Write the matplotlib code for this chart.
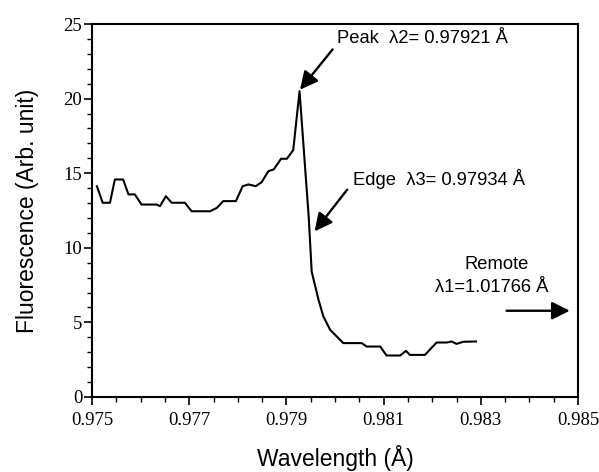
import numpy as np
import matplotlib
matplotlib.use("Agg")
import matplotlib.pyplot as plt
from matplotlib.ticker import MultipleLocator

# fluorescence scan
wavelength = [0.97510, 0.97522, 0.97537, 0.97547, 0.97564, 0.97575, 0.97588,
              0.97602, 0.97633, 0.97640, 0.97652, 0.97664, 0.97691, 0.97705,
              0.97743, 0.97757, 0.97770, 0.97796, 0.97810, 0.97822, 0.97837,
              0.97849, 0.97863, 0.97874, 0.97889, 0.97901, 0.97914, 0.97927,
              0.97946, 0.97952, 0.97966, 0.97976, 0.97990, 0.98017, 0.98055,
              0.98065, 0.98093, 0.98106, 0.98134, 0.98146, 0.98154, 0.98185,
              0.98209, 0.98230, 0.98240, 0.98250, 0.98264, 0.98290]
fluor = [14.13, 13.02, 13.02, 14.58, 14.58, 13.58, 13.58,
         12.90, 12.90, 12.79, 13.46, 13.02, 13.02, 12.45,
         12.45, 12.68, 13.13, 13.13, 14.13, 14.25, 14.13,
         14.40, 15.14, 15.26, 15.97, 15.97, 16.55, 20.50,
         12.00, 8.40, 6.52, 5.40, 4.50, 3.61, 3.61,
         3.38, 3.38, 2.78, 2.78, 3.09, 2.82, 2.82,
         3.65, 3.65, 3.72, 3.56, 3.70, 3.72]

peak_label = "Peak  λ2= 0.97921 Å"
edge_label = "Edge  λ3= 0.97934 Å"
remote_label = "Remote"
remote_value = "λ1=1.01766 Å"

sans = "Liberation Sans"
serif = "Liberation Serif"

fig = plt.figure(figsize=(5.99, 4.72), dpi=100)
ax = fig.add_axes([0.1536, 0.159, 0.8114, 0.790])

ax.plot(wavelength, fluor, color="black", lw=1.5)

ax.set_xlim(0.975, 0.985)
ax.set_ylim(0, 25)
ax.set_xticks([0.975, 0.977, 0.979, 0.981, 0.983, 0.985])
ax.set_xticklabels(["0.975", "0.977", "0.979", "0.981", "0.983", "0.985"])
ax.xaxis.set_minor_locator(MultipleLocator(0.0005))
ax.yaxis.set_major_locator(MultipleLocator(5))
ax.yaxis.set_minor_locator(MultipleLocator(1))
ax.tick_params(which="major", length=6, width=1.2, direction="out", labelsize=13.5)
ax.tick_params(which="minor", length=3.5, width=1.0, direction="out")
ax.tick_params(axis="x", which="major", pad=5)
ax.tick_params(axis="y", which="major", pad=1)
for lab in ax.get_xticklabels() + ax.get_yticklabels():
    lab.set_family(serif)
for s in ax.spines.values():
    s.set_linewidth(1.5)

ax.set_xlabel("Wavelength (Å)", fontsize=16.5, family=sans, labelpad=11)
ax.set_ylabel("Fluorescence (Arb. unit)", fontsize=16.5, family=sans, labelpad=18)

arrow = dict(arrowstyle="-|>", color="black", lw=1.7, mutation_scale=27,
             shrinkA=0, shrinkB=0)
ax.annotate("", xy=(0.97928, 20.6), xytext=(0.97995, 23.3), arrowprops=arrow)
ax.text(0.98004, 24.0, peak_label, family=sans, fontsize=13.2, va="center")
ax.annotate("", xy=(0.97958, 11.1), xytext=(0.98025, 13.9), arrowprops=arrow)
ax.text(0.98037, 14.6, edge_label, family=sans, fontsize=13.2, va="center")
ax.text(0.98333, 8.87, remote_label, family=sans, fontsize=13.2, ha="center", va="center")
ax.text(0.98322, 7.33, remote_value, family=sans, fontsize=13.2, ha="center", va="center")
ax.annotate("", xy=(0.98483, 5.78), xytext=(0.98353, 5.78), arrowprops=arrow)

fig.savefig("out.png", dpi=100)
